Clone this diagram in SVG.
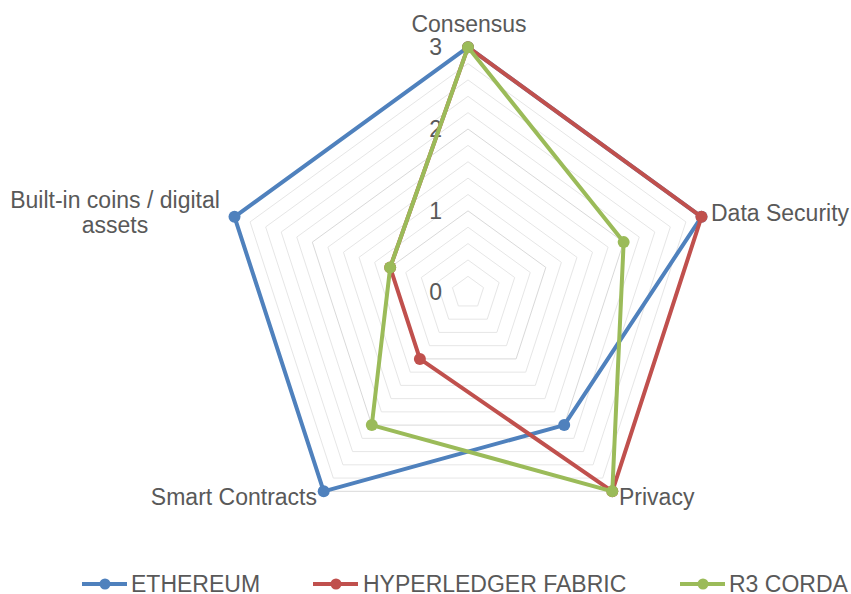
<svg xmlns="http://www.w3.org/2000/svg" width="851" height="594" viewBox="0 0 851 594">
<style>
.bg{fill:#ffffff}
.grid{fill:none;stroke:#e6e6e6;stroke-width:1}
.major{fill:none;stroke:#d9d9d9;stroke-width:1}
.lbl{font-family:"Liberation Sans",Arial,sans-serif;font-size:23px;fill:#595959}
.ax{font-family:"Liberation Sans",Arial,sans-serif;font-size:23px;fill:#595959;text-anchor:end}
.s{fill:none;stroke-width:4;stroke-linejoin:round}
.eth{stroke:#4F81BD}.hlf{stroke:#C0504D}.r3{stroke:#9BBB59}
.ethf{fill:#4F81BD}.hlff{fill:#C0504D}.r3f{fill:#9BBB59}
</style>
<rect class="bg" x="0" y="0" width="851" height="594"/>
<g id="gridlines">
<polygon class="grid" points="468,276.33 483.57,287.64 477.62,305.94 458.38,305.94 452.43,287.64"/>
<polygon class="grid" points="468,259.97 499.13,282.59 487.24,319.18 448.76,319.18 436.87,282.59"/>
<polygon class="grid" points="468,243.60 514.70,277.53 496.86,332.42 439.14,332.42 421.30,277.53"/>
<polygon class="grid" points="468,227.23 530.26,272.47 506.48,345.66 429.52,345.66 405.74,272.47"/>
<polygon class="major" points="468,210.87 545.83,267.41 516.10,358.90 419.90,358.90 390.17,267.41"/>
<polygon class="grid" points="468,194.50 561.39,262.35 525.72,372.15 410.28,372.15 374.61,262.35"/>
<polygon class="grid" points="468,178.13 576.96,257.30 535.34,385.39 400.66,385.39 359.04,257.30"/>
<polygon class="grid" points="468,161.77 592.52,252.24 544.96,398.63 391.04,398.63 343.48,252.24"/>
<polygon class="grid" points="468,145.40 608.09,247.18 554.58,411.87 381.42,411.87 327.91,247.18"/>
<polygon class="major" points="468,129.03 623.66,242.12 564.20,425.11 371.80,425.11 312.34,242.12"/>
<polygon class="grid" points="468,112.67 639.22,237.07 573.82,438.35 362.18,438.35 296.78,237.07"/>
<polygon class="grid" points="468,96.30 654.79,232.01 583.44,451.59 352.56,451.59 281.21,232.01"/>
<polygon class="grid" points="468,79.93 670.35,226.95 593.06,464.83 342.94,464.83 265.65,226.95"/>
<polygon class="grid" points="468,63.57 685.92,221.89 602.68,478.07 333.32,478.07 250.08,221.89"/>
<polygon class="major" points="468,47.20 701.49,216.84 612.30,491.31 323.70,491.31 234.51,216.84"/>
</g>
<g id="axis-labels">
<text class="ax" x="442" y="55">3</text>
<text class="ax" x="442" y="137">2</text>
<text class="ax" x="442" y="219">1</text>
<text class="ax" x="442" y="300">0</text>
</g>
<g id="category-labels">
<text class="lbl" x="469" y="32" text-anchor="middle">Consensus</text>
<text class="lbl" x="711" y="221">Data Security</text>
<text class="lbl" x="619" y="505">Privacy</text>
<text class="lbl" x="317" y="505" text-anchor="end">Smart Contracts</text>
<text class="lbl" x="115" y="208" text-anchor="middle">Built-in coins / digital</text>
<text class="lbl" x="115" y="233" text-anchor="middle">assets</text>
</g>
<g id="series-ethereum">
<polygon class="s eth" points="468,47.20 701.49,216.84 564.20,425.11 323.70,491.31 234.51,216.84"/>
<g class="ethf">
<circle cx="468" cy="47.2" r="6"/><circle cx="701.49" cy="216.84" r="6"/><circle cx="564.2" cy="425.11" r="6"/><circle cx="323.7" cy="491.31" r="6"/><circle cx="234.51" cy="216.84" r="6"/>
</g>
</g>
<g id="series-hyperledger">
<polygon class="s hlf" points="468,47.20 701.49,216.84 612.30,491.31 419.90,358.90 390.17,267.41"/>
<g class="hlff">
<circle cx="468" cy="47.2" r="6"/><circle cx="701.49" cy="216.84" r="6"/><circle cx="612.3" cy="491.31" r="6"/><circle cx="419.9" cy="358.9" r="6"/><circle cx="390.17" cy="267.41" r="6"/>
</g>
</g>
<g id="series-r3corda">
<polygon class="s r3" points="468,47.20 623.66,242.12 612.30,491.31 371.80,425.11 390.17,267.41"/>
<g class="r3f">
<circle cx="468" cy="47.2" r="6"/><circle cx="623.66" cy="242.12" r="6"/><circle cx="612.3" cy="491.31" r="6"/><circle cx="371.8" cy="425.11" r="6"/><circle cx="390.17" cy="267.41" r="6"/>
</g>
</g>
<g id="legend">
<line class="s eth" x1="82" y1="584" x2="127" y2="584"/><circle class="ethf" cx="105" cy="584" r="5.5"/>
<text class="lbl" x="131" y="592">ETHEREUM</text>
<line class="s hlf" x1="313" y1="584" x2="358" y2="584"/><circle class="hlff" cx="336" cy="584" r="5.5"/>
<text class="lbl" x="363" y="592">HYPERLEDGER FABRIC</text>
<line class="s r3" x1="680" y1="584" x2="725" y2="584"/><circle class="r3f" cx="703" cy="584" r="5.5"/>
<text class="lbl" x="729" y="592">R3 CORDA</text>
</g>
</svg>
